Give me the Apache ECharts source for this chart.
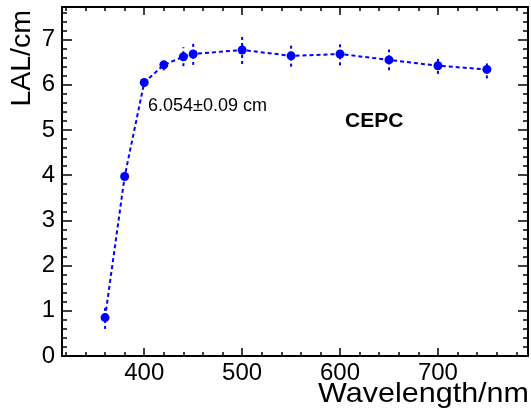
<!DOCTYPE html>
<html lang="en">
<head>
<meta charset="UTF-8">
<title>LAL vs wavelength</title>
<script src="https://cdn.jsdelivr.net/npm/echarts@6.0.0/dist/echarts.min.js"></script>
<style>
  body { margin: 0; padding: 0; background: #fff; }
  #chart { width: 531px; height: 414px; }
</style>
</head>
<body>
<div id="chart"></div>
<script>
  // data
  var wavelength = [360, 380, 400, 420, 440, 450, 500, 550, 600, 650, 700, 750];
  var lal = [0.85, 3.97, 6.05, 6.44, 6.62, 6.68, 6.77, 6.64, 6.68, 6.55, 6.42, 6.34];
  var lalErr = [0.25, 0.1, 0.1, 0.12, 0.21, 0.24, 0.31, 0.24, 0.25, 0.23, 0.18, 0.2];

  var xMajor = [400, 500, 600, 700];
  var xMinor = [320, 340, 360, 380, 420, 440, 460, 480, 520, 540, 560, 580,
                620, 640, 660, 680, 720, 740, 760, 780];
  var yMajor = [0, 1, 2, 3, 4, 5, 6, 7];
  var yMinor = [];
  for (var i = 0; i < 39; i++) {
    if (i % 5 !== 0) yMinor.push(+(i * 0.2).toFixed(1));
  }

  var FONT = 'Liberation Sans, Arial, Helvetica, sans-serif';
  var BLUE = '#0000ff';

  var pts = wavelength.map(function (w, i) { return [w, lal[i]]; });
  var bars = wavelength.map(function (w, i) { return [w, lal[i] - lalErr[i], lal[i] + lalErr[i]]; });

  function xAx(pos, ticks, len, withLine, withLabel) {
    return {
      type: 'value', position: pos, min: 316, max: 792,
      axisLine: { show: withLine, onZero: false, lineStyle: { color: '#000', width: 2 } },
      axisTick: { show: true, inside: true, length: len, customValues: ticks,
                  lineStyle: { color: '#000', width: 1.5 } },
      axisLabel: { show: withLabel, customValues: ticks, margin: 5,
                   color: '#000', fontSize: 24, fontFamily: FONT },
      splitLine: { show: false }
    };
  }
  function yAx(pos, ticks, len, withLine, withLabel) {
    return {
      type: 'value', position: pos, min: 0, max: 7.72,
      axisLine: { show: withLine, onZero: false, lineStyle: { color: '#000', width: 2 } },
      axisTick: { show: true, inside: true, length: len, customValues: ticks,
                  lineStyle: { color: '#000', width: 1.5 } },
      axisLabel: { show: withLabel, customValues: ticks, margin: 7,
                   color: '#000', fontSize: 24, fontFamily: FONT },
      splitLine: { show: false }
    };
  }

  var chart = echarts.init(document.getElementById('chart'));
  chart.setOption({
    animation: false,
    backgroundColor: '#fff',
    grid: { left: 62, top: 7, width: 466, height: 349 },
    xAxis: [
      xAx('bottom', xMajor, 8, true, true),
      xAx('bottom', xMinor, 4, false, false),
      xAx('top', xMajor, 8, true, false),
      xAx('top', xMinor, 4, false, false)
    ],
    yAxis: [
      yAx('left', yMajor, 10, true, true),
      yAx('left', yMinor, 5, false, false),
      yAx('right', yMajor, 10, true, false),
      yAx('right', yMinor, 5, false, false)
    ],
    graphic: [
      { type: 'text', x: 22, y: 10, rotation: Math.PI / 2,
        style: { text: 'LAL/cm', fill: '#000', font: '28.5px ' + FONT,
                 textAlign: 'right', textVerticalAlign: 'middle' } },
      { type: 'text', x: 529, y: 394, scaleX: 1.09,
        style: { text: 'Wavelength/nm', fill: '#000', font: '28px ' + FONT,
                 textAlign: 'right', textVerticalAlign: 'middle' } },
      { type: 'text', x: 148, y: 106,
        style: { text: '6.054\u00b10.09 cm', fill: '#000', font: '18px ' + FONT,
                 textAlign: 'left', textVerticalAlign: 'middle' } },
      { type: 'text', x: 345, y: 121,
        style: { text: 'CEPC', fill: '#000', font: 'bold 21px ' + FONT,
                 textAlign: 'left', textVerticalAlign: 'middle' } }
    ],
    series: [
      {
        type: 'custom',
        data: bars,
        z: 2,
        renderItem: function (params, api) {
          var lo = api.coord([api.value(0), api.value(1)]);
          var hi = api.coord([api.value(0), api.value(2)]);
          return {
            type: 'line',
            shape: { x1: lo[0], y1: lo[1], x2: hi[0], y2: hi[1] },
            style: { stroke: BLUE, lineWidth: 2, lineDash: [3, 3] }
          };
        }
      },
      {
        type: 'line',
        data: pts,
        z: 3,
        symbol: 'circle',
        symbolSize: 9,
        itemStyle: { color: BLUE },
        lineStyle: { color: BLUE, width: 2, type: [4, 3] }
      }
    ]
  });
</script>
</body>
</html>
